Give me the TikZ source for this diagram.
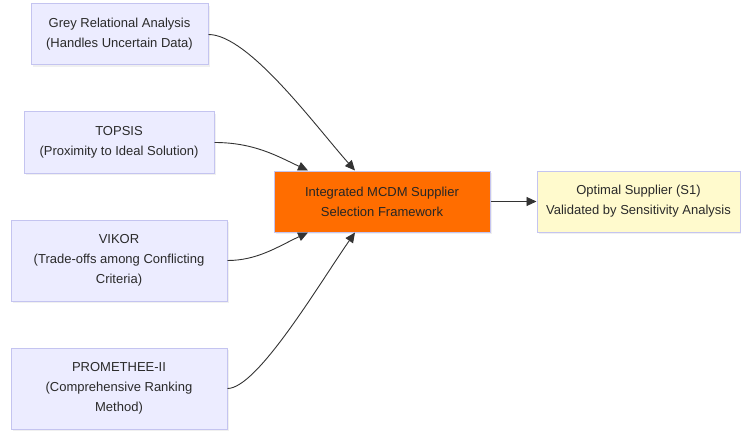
\documentclass[tikz,border=0pt]{standalone}
\usepackage{fontspec}
\setmainfont{Liberation Sans}
\usetikzlibrary{arrows.meta,shadows}
\definecolor{lavfill}{HTML}{ECECFF}
\definecolor{lavline}{HTML}{C4C4F0}
\definecolor{orfill}{HTML}{FF6D00}
\definecolor{yelfill}{HTML}{FFFACD}
\definecolor{edgecol}{HTML}{333333}
\definecolor{txtcol}{HTML}{2A2A2A}
\tikzset{
  boxbase/.style={draw=lavline, line width=1pt, align=center, inner sep=0pt,
    text=txtcol, font=\fontsize{13}{20}\selectfont,
    drop shadow={opacity=0.12, shadow xshift=2pt, shadow yshift=-2pt}},
  methodbox/.style={boxbase, fill=lavfill},
  corebox/.style={boxbase, fill=orfill, text=black!85},
  resultbox/.style={boxbase, fill=yelfill},
  link/.style={draw=edgecol, line width=0.9pt, -{Triangle[length=10pt,width=9pt]}}
}
\begin{document}
\begin{tikzpicture}[x=1pt,y=-1pt]
\useasboundingbox (0,0) rectangle (741,433);
\node[methodbox, minimum width=177pt, minimum height=61pt] (gra) at (119.5,34.5) {Grey Relational Analysis\\(Handles Uncertain Data)};
\node[methodbox, minimum width=190pt, minimum height=61pt] (top) at (119,142.5) {TOPSIS\\(Proximity to Ideal Solution)};
\node[methodbox, minimum width=216pt, minimum height=81pt] (vik) at (119,260.5) {VIKOR\\(Trade-offs among Conflicting\\Criteria)};
\node[methodbox, minimum width=216pt, minimum height=81pt] (pro) at (119,388.5) {PROMETHEE-II\\(Comprehensive Ranking\\Method)};
\node[corebox, minimum width=216pt, minimum height=61pt] (core) at (382,201.5) {Integrated MCDM Supplier\\Selection Framework};
\node[resultbox, minimum width=203pt, minimum height=61pt] (res) at (638.5,201.5) {Optimal Supplier (S1)\\Validated by Sensitivity Analysis};
\draw[link] (gra.east) .. controls +(40,0) and +(-40,-45) .. ([xshift=-27pt]core.north);
\draw[link] (top.east) .. controls +(40,0) and +(-30,-14) .. ([xshift=-74pt]core.north);
\draw[link] (vik.east) .. controls +(30,0) and +(-30,14) .. ([xshift=-74pt]core.south);
\draw[link] (pro.east) .. controls +(30,0) and +(-35,50) .. ([xshift=-27pt]core.south);
\draw[link] (core.east) -- (res.west);
\end{tikzpicture}
\end{document}
